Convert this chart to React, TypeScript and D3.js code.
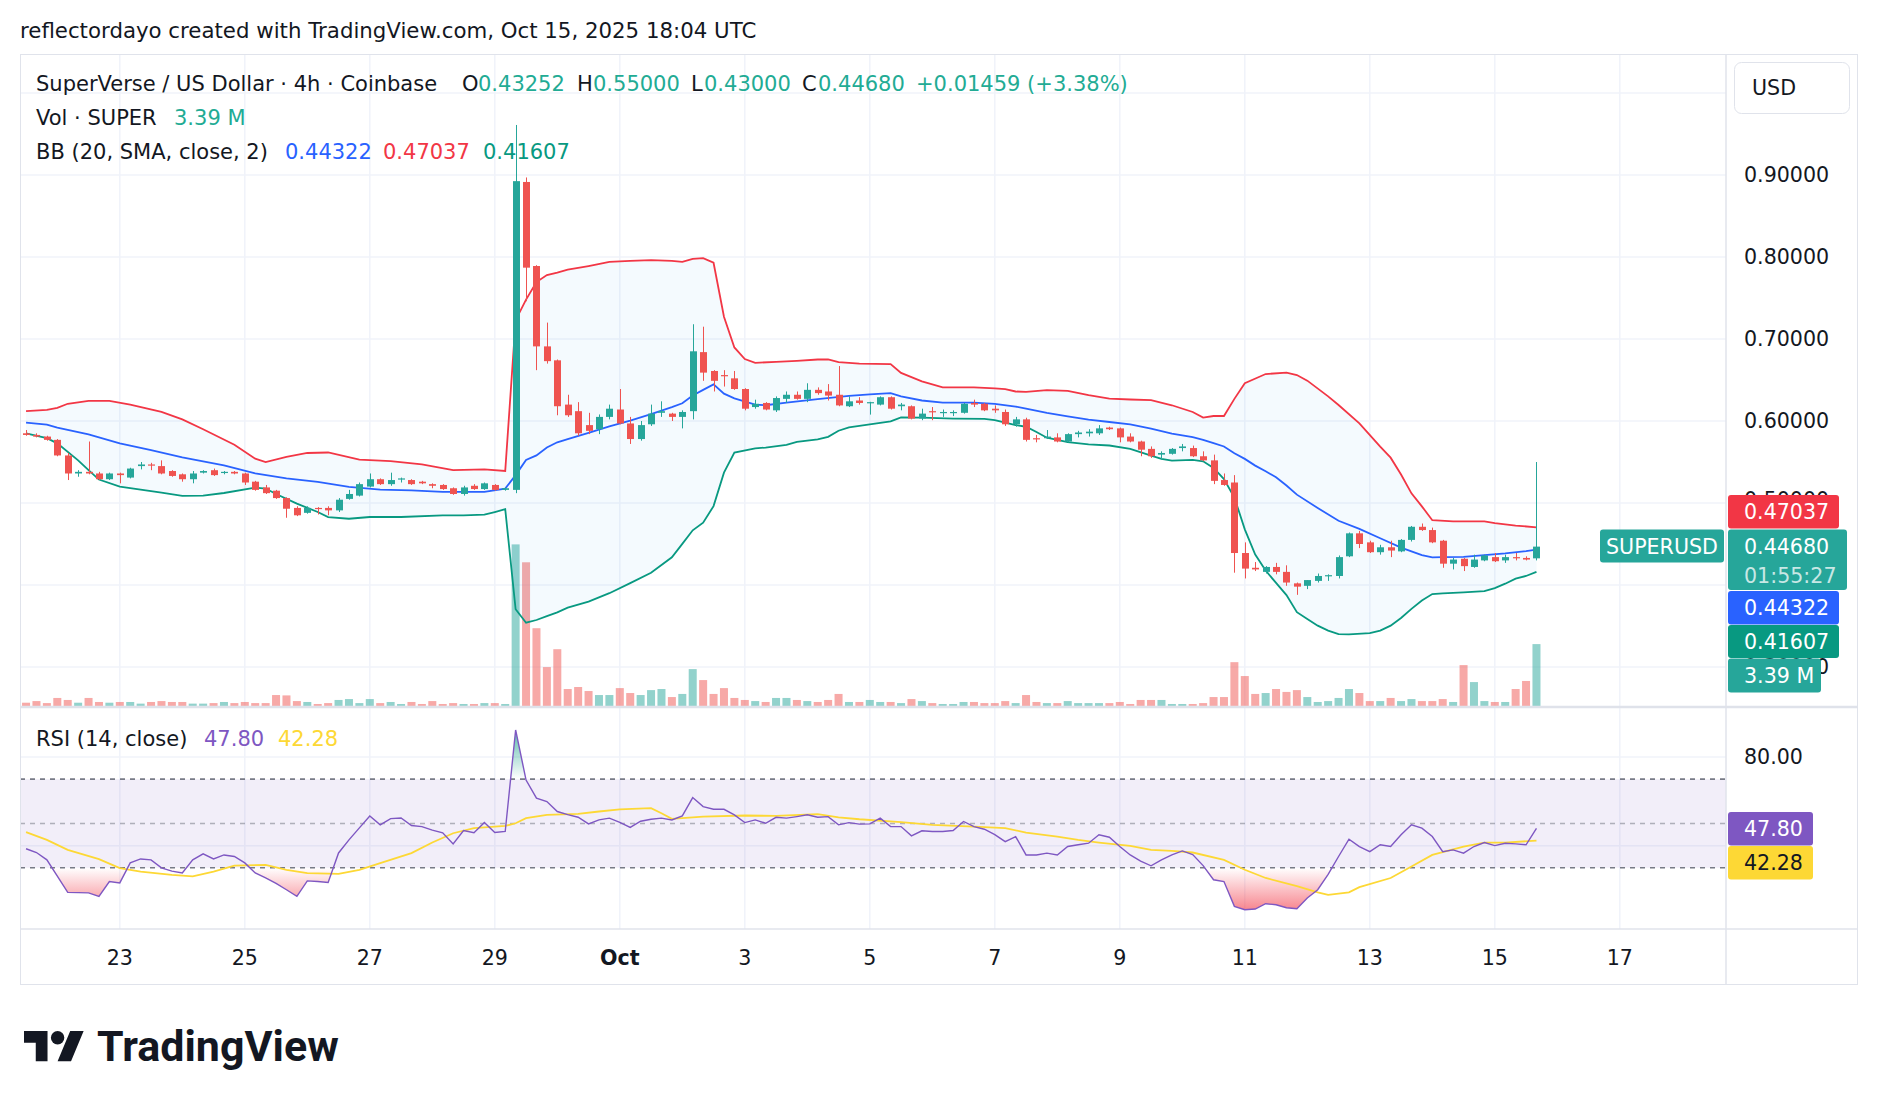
import React from 'react';
import * as d3 from 'd3';

// ---------------- DATA ----------------
const BAR0 = Date.UTC(2025, 8, 21, 12); // first visible 4h bar
const BAR_MS = 4 * 3600 * 1000;

const opens = [0.585,0.583,0.581,0.577,0.558,0.536,0.538,0.536,0.529,0.536,0.531,0.545,0.547,0.545,0.539,0.535,0.529,0.537,0.540,0.537,0.538,0.536,0.526,0.519,0.515,0.506,0.494,0.488,0.494,0.494,0.491,0.505,0.509,0.520,0.529,0.523,0.529,0.528,0.526,0.523,0.522,0.518,0.511,0.521,0.517,0.522,0.516,0.516,0.8915,0.789,0.691,0.674,0.620,0.612,0.595,0.590,0.605,0.614,0.597,0.578,0.596,0.610,0.609,0.605,0.612,0.684,0.661,0.656,0.652,0.639,0.617,0.622,0.613,0.627,0.632,0.627,0.638,0.636,0.632,0.618,0.625,0.622,0.620,0.629,0.618,0.618,0.603,0.612,0.610,0.610,0.610,0.622,0.621,0.615,0.611,0.596,0.602,0.579,0.579,0.580,0.575,0.584,0.585,0.585,0.592,0.591,0.581,0.575,0.566,0.559,0.560,0.567,0.567,0.557,0.552,0.528,0.525,0.439,0.421,0.416,0.422,0.416,0.402,0.399,0.405,0.411,0.411,0.435,0.463,0.452,0.440,0.446,0.441,0.455,0.471,0.467,0.454,0.426,0.432,0.422,0.430,0.434,0.430,0.434,0.433,0.43252];
const highs = [0.589,0.585,0.582,0.578,0.561,0.540,0.575,0.538,0.537,0.537,0.543,0.550,0.549,0.552,0.540,0.536,0.539,0.540,0.542,0.539,0.539,0.537,0.527,0.522,0.516,0.507,0.496,0.496,0.495,0.496,0.506,0.516,0.525,0.536,0.530,0.537,0.531,0.529,0.527,0.524,0.523,0.519,0.521,0.523,0.525,0.523,0.519,0.961,0.897,0.790,0.720,0.675,0.632,0.623,0.610,0.608,0.620,0.639,0.605,0.600,0.620,0.624,0.610,0.613,0.718,0.715,0.662,0.662,0.661,0.640,0.626,0.623,0.630,0.636,0.636,0.646,0.641,0.645,0.667,0.630,0.629,0.6234,0.630,0.630,0.622,0.619,0.615,0.617,0.614,0.613,0.622,0.626,0.622,0.619,0.614,0.605,0.604,0.583,0.589,0.585,0.585,0.588,0.590,0.595,0.593,0.592,0.585,0.576,0.569,0.563,0.567,0.572,0.570,0.563,0.559,0.536,0.534,0.452,0.428,0.423,0.427,0.424,0.403,0.406,0.414,0.413,0.436,0.464,0.466,0.454,0.449,0.454,0.456,0.472,0.475,0.470,0.455,0.433,0.433,0.437,0.437,0.439,0.437,0.439,0.435,0.550];
const lows = [0.582,0.580,0.576,0.557,0.528,0.532,0.535,0.528,0.528,0.524,0.530,0.541,0.540,0.535,0.532,0.526,0.524,0.536,0.533,0.535,0.535,0.522,0.515,0.511,0.505,0.482,0.484,0.487,0.486,0.485,0.489,0.504,0.508,0.519,0.522,0.521,0.525,0.522,0.523,0.518,0.516,0.510,0.509,0.516,0.516,0.515,0.515,0.512,0.746,0.662,0.670,0.607,0.605,0.582,0.584,0.584,0.602,0.596,0.572,0.576,0.594,0.605,0.600,0.591,0.602,0.649,0.636,0.642,0.638,0.613,0.615,0.613,0.611,0.622,0.626,0.623,0.632,0.625,0.618,0.617,0.620,0.6078,0.619,0.614,0.613,0.602,0.601,0.601,0.605,0.606,0.609,0.617,0.612,0.610,0.594,0.593,0.575,0.574,0.578,0.574,0.574,0.580,0.581,0.583,0.589,0.574,0.574,0.557,0.555,0.553,0.559,0.563,0.556,0.551,0.523,0.521,0.415,0.408,0.417,0.414,0.413,0.399,0.388,0.395,0.403,0.405,0.408,0.434,0.445,0.439,0.437,0.434,0.440,0.453,0.466,0.451,0.421,0.419,0.417,0.421,0.429,0.428,0.427,0.430,0.430,0.430];
const closes = [0.583,0.581,0.577,0.558,0.536,0.538,0.536,0.529,0.536,0.534,0.542,0.547,0.546,0.536,0.533,0.529,0.536,0.539,0.534,0.538,0.536,0.525,0.516,0.512,0.506,0.493,0.485,0.494,0.493,0.491,0.504,0.511,0.523,0.529,0.523,0.528,0.530,0.523,0.524,0.521,0.517,0.511,0.519,0.517,0.524,0.516,0.518,0.8925,0.787,0.691,0.673,0.618,0.607,0.585,0.588,0.605,0.615,0.597,0.578,0.595,0.609,0.612,0.605,0.611,0.685,0.659,0.649,0.655,0.639,0.615,0.621,0.614,0.628,0.632,0.627,0.638,0.634,0.631,0.619,0.624,0.622,0.623,0.629,0.615,0.620,0.603,0.609,0.611,0.611,0.611,0.621,0.620,0.613,0.613,0.596,0.602,0.577,0.578,0.581,0.575,0.584,0.586,0.587,0.591,0.590,0.580,0.575,0.565,0.557,0.561,0.566,0.569,0.557,0.552,0.527,0.522,0.439,0.420,0.419,0.422,0.416,0.403,0.398,0.406,0.411,0.412,0.434,0.463,0.450,0.440,0.446,0.442,0.455,0.471,0.467,0.452,0.426,0.431,0.423,0.431,0.436,0.429,0.434,0.433,0.431,0.4468];
// volume in millions
const volumes = [0.18,0.27,0.16,0.44,0.33,0.18,0.44,0.22,0.18,0.22,0.22,0.13,0.22,0.27,0.22,0.22,0.13,0.13,0.16,0.22,0.16,0.22,0.16,0.16,0.60,0.58,0.27,0.22,0.11,0.16,0.33,0.38,0.16,0.38,0.16,0.22,0.11,0.22,0.11,0.27,0.11,0.16,0.11,0.11,0.16,0.16,0.11,8.85,7.87,4.26,2.13,3.11,0.93,1.04,0.82,0.60,0.60,0.98,0.71,0.60,0.87,0.93,0.49,0.66,2.02,1.42,0.66,0.98,0.44,0.33,0.27,0.22,0.44,0.44,0.33,0.27,0.22,0.33,0.66,0.22,0.22,0.33,0.22,0.22,0.16,0.38,0.27,0.16,0.11,0.11,0.22,0.22,0.16,0.16,0.27,0.16,0.60,0.22,0.16,0.16,0.27,0.16,0.16,0.16,0.16,0.22,0.11,0.33,0.33,0.33,0.11,0.11,0.11,0.16,0.49,0.49,2.40,1.64,0.66,0.71,0.93,0.77,0.87,0.49,0.22,0.27,0.44,0.93,0.71,0.27,0.27,0.44,0.27,0.38,0.27,0.27,0.38,0.22,2.24,1.31,0.27,0.22,0.22,0.93,1.37,3.39];

// Bollinger bands: [bar index, value]
const bbUpper: [number, number][] = [[0,0.612],[2,0.6135],[3,0.616],[4,0.621],[6,0.6245],[8,0.6245],[10,0.620],[13,0.611],[15,0.602],[17,0.590],[20,0.571],[22,0.554],[23,0.550],[25,0.5563],[27,0.561],[29,0.5616],[32,0.553],[35,0.551],[38,0.547],[41,0.540],[44,0.541],[46,0.539],[47,0.723],[48,0.748],[49,0.7695],[50,0.778],[51,0.781],[52,0.7845],[54,0.789],[56,0.794],[58,0.7953],[60,0.7962],[62,0.7953],[63,0.794],[64,0.7977],[65,0.7986],[66,0.793],[67,0.7272],[68,0.6897],[69,0.6756],[70,0.671],[72,0.672],[74,0.6734],[76,0.675],[77,0.675],[78,0.6717],[80,0.670],[83,0.6693],[84,0.6586],[86,0.6484],[88,0.641],[91,0.641],[93,0.6398],[94,0.639],[95,0.636],[96,0.6356],[98,0.6376],[100,0.6368],[102,0.6315],[104,0.6274],[106,0.6262],[108,0.6254],[110,0.6192],[112,0.611],[113,0.6041],[114,0.6061],[115,0.6061],[116,0.627],[117,0.646],[119,0.6573],[121,0.6589],[122,0.6561],[123,0.6492],[125,0.630],[126,0.6195],[128,0.5972],[130,0.5687],[131,0.5553],[132,0.5348],[133,0.5118],[134,0.4959],[135,0.479],[137,0.4775],[140,0.4775],[141,0.4754],[143,0.4725],[145,0.47037]];
const bbBasis: [number, number][] = [[0,0.598],[2,0.5955],[3,0.592],[6,0.5837],[9,0.5727],[12,0.5645],[15,0.5555],[19,0.546],[22,0.536],[25,0.530],[28,0.5257],[31,0.5196],[34,0.5163],[37,0.5155],[40,0.5135],[44,0.5135],[46,0.5176],[47,0.534],[48,0.5526],[49,0.558],[50,0.5676],[51,0.574],[52,0.578],[54,0.5855],[56,0.5934],[58,0.6005],[60,0.6085],[62,0.617],[63,0.6216],[64,0.631],[65,0.638],[66,0.6446],[67,0.6333],[68,0.6277],[70,0.620],[71,0.6192],[73,0.6225],[76,0.6266],[79,0.6307],[81,0.6324],[83,0.634],[84,0.630],[86,0.625],[88,0.6225],[91,0.6225],[93,0.6209],[95,0.6176],[96,0.6151],[98,0.6098],[100,0.6057],[102,0.6016],[104,0.5988],[106,0.5959],[108,0.5906],[110,0.5845],[112,0.5804],[113,0.5771],[114,0.573],[115,0.5689],[116,0.5607],[117,0.5538],[118,0.5456],[119,0.5387],[120,0.5313],[121,0.5214],[122,0.5102],[124,0.4939],[126,0.4783],[128,0.4684],[130,0.457],[132,0.4455],[134,0.4365],[135,0.4336],[136,0.434],[138,0.4344],[140,0.4365],[142,0.4385],[144,0.4414],[145,0.44322]];
const bbLower: [number, number][] = [[0,0.585],[2,0.579],[3,0.5727],[5,0.552],[6,0.540],[7,0.5286],[9,0.520],[11,0.5163],[13,0.5127],[15,0.5086],[17,0.509],[19,0.5122],[22,0.5188],[23,0.5176],[24,0.511],[26,0.4992],[28,0.489],[29,0.4829],[31,0.4808],[33,0.4829],[36,0.4829],[40,0.4849],[42,0.4849],[44,0.4857],[45,0.489],[46,0.4925],[47,0.3704],[48,0.354],[49,0.3573],[50,0.362],[51,0.3667],[52,0.3723],[54,0.3798],[56,0.390],[58,0.4023],[60,0.415],[62,0.4338],[63,0.4502],[64,0.4667],[65,0.476],[66,0.4962],[67,0.537],[68,0.5615],[70,0.5667],[71,0.5676],[73,0.5709],[74,0.5746],[76,0.5775],[77,0.5807],[78,0.5881],[79,0.5922],[81,0.5959],[83,0.5996],[84,0.6045],[86,0.6041],[89,0.6029],[92,0.6025],[93,0.6012],[94,0.598],[95,0.5951],[96,0.5930],[97,0.5865],[98,0.5796],[100,0.5742],[102,0.5714],[104,0.5701],[106,0.566],[108,0.5579],[109,0.5538],[110,0.5517],[112,0.5526],[113,0.5509],[114,0.5427],[115,0.5292],[116,0.5067],[117,0.4679],[118,0.4372],[119,0.4176],[120,0.4025],[121,0.3877],[122,0.3668],[123,0.3586],[124,0.3504],[125,0.3443],[126,0.3402],[127,0.3398],[129,0.3414],[130,0.3443],[131,0.3504],[132,0.3598],[133,0.3709],[134,0.3811],[135,0.3889],[136,0.3897],[138,0.391],[140,0.3926],[141,0.3963],[142,0.4016],[143,0.4078],[144,0.411],[145,0.41607]];

// RSI(14) and its moving average: [bar index, value]
const rsi: [number, number][] = [[0,38.6],[1,36.9],[2,33.6],[4,18.9],[5,18.8],[6,18.7],[7,17.1],[8,23.8],[9,23.2],[10,32.2],[11,34],[12,33.6],[13,30],[14,28.5],[15,27.7],[16,33.6],[17,36.3],[18,34],[19,35.8],[20,35.1],[21,32.2],[22,27.7],[23,25.5],[24,23],[25,20.1],[26,17.1],[27,24.1],[28,23.8],[29,23.4],[30,36.7],[31,42.6],[32,48],[33,53.4],[34,49.4],[35,52.2],[36,52.5],[37,49.1],[38,48.6],[39,47],[40,45.8],[41,40.8],[42,46.8],[43,45.8],[44,50.4],[45,45.9],[46,46.4],[47,92.2],[48,69.6],[49,61.4],[50,59.9],[51,55.4],[52,54],[53,52.8],[54,49.8],[55,51.6],[56,52.4],[57,50.5],[58,48.2],[59,51.0],[60,51.9],[61,52.4],[62,51.6],[63,53.4],[64,61.7],[65,57.6],[66,56.4],[67,56.4],[68,53.9],[69,50.4],[70,51.6],[71,50.1],[72,52.8],[73,52.4],[74,53.1],[75,53.9],[76,52.8],[77,53.1],[78,49.4],[79,50.4],[80,49.7],[81,49.8],[82,52.4],[83,48.6],[84,48.6],[85,44.4],[86,46.7],[87,46.4],[88,46.4],[89,46.8],[90,50.9],[91,48.6],[92,47.4],[93,45],[94,41.8],[95,44.1],[96,35.8],[97,35.8],[98,36.6],[99,35.8],[100,39.6],[101,40.4],[102,41.1],[103,44.9],[104,43.8],[105,39.6],[106,35.8],[107,33],[108,30.9],[109,33.6],[110,35.8],[111,37.6],[112,36],[113,31],[114,24.6],[115,23.8],[116,12.6],[117,11.1],[118,11.4],[119,13.8],[120,13.3],[121,12],[122,11.5],[123,16.4],[124,20.1],[125,27],[126,35.1],[127,42.9],[128,39.6],[129,37.3],[130,40.4],[131,39.6],[132,44.9],[133,49.4],[134,47.9],[135,44.1],[136,37.3],[137,38.1],[138,36.6],[139,39.6],[140,41.4],[141,40],[142,41.1],[143,40.8],[144,40.4],[145,47.8]];
const rsiMa: [number, number][] = [[0,46.1],[2,42.6],[4,38.1],[7,33.9],[9,29.9],[11,28.3],[14,26.8],[16,26.1],[18,28.3],[20,31],[23,31.3],[25,29.1],[27,27.6],[30,27.3],[32,29.1],[34,32.1],[37,36.6],[39,41.4],[41,45.6],[43,47.9],[46,48.9],[47,50.1],[48,52.4],[50,53.9],[53,54.3],[55,55.4],[57,56.4],[60,56.9],[61,54.6],[62,52.1],[65,53.1],[69,53.6],[72,53.4],[76,54.2],[78,52.8],[80,51.9],[84,50.6],[87,49.4],[91,48.6],[94,47.9],[96,45.9],[99,44.1],[101,42.6],[103,41.4],[106,39.9],[108,38.1],[110,37.6],[112,36.9],[115,33.6],[117,29.1],[119,25.4],[122,21.7],[124,18.9],[125,17.8],[127,18.9],[128,21.3],[131,25.4],[133,30.6],[135,35.8],[138,39.6],[140,41.4],[142,41.4],[145,42.28]];

const priceGrid = [0.3, 0.4, 0.5, 0.6, 0.7, 0.8, 0.9, 1.0];
const priceLabels = [0.3, 0.5, 0.6, 0.7, 0.8, 0.9];
const rsiGrid = [40, 80];
const rsiLabels = [80];
const rsiLevels = [70, 50, 30];
const timeTicks = ['2025-09-23','2025-09-25','2025-09-27','2025-09-29','2025-10-01','2025-10-03','2025-10-05','2025-10-07','2025-10-09','2025-10-11','2025-10-13','2025-10-15','2025-10-17'];
const timeLabels = ['23','25','27','29','Oct','3','5','7','9','11','13','15','17'];

// ---------------- LAYOUT ----------------
const W = 1878, H = 1106;
const FL = 20, FT = 54, FR = 1858, FB = 985;
const PR = 1726; // price axis separator
const MAIN_B = 707, RSI_B = 929;
const FONT = "'DejaVu Sans', Verdana, sans-serif";
const TXT = '#131722';
const UP = '#26a69a', DOWN = '#ef5350';

export default function App() {
  const x = d3.scaleUtc()
    .domain([new Date(Date.UTC(2025, 8, 23)), new Date(Date.UTC(2025, 9, 17))])
    .range([119.8, 1619.8]);
  const bx = (i: number) => x(new Date(BAR0 + i * BAR_MS));
  const yP = d3.scaleLinear().domain([0.3, 0.9]).range([667, 175]);
  const yV = d3.scaleLinear().domain([0, 9.2]).range([706, 538]);
  const yR = d3.scaleLinear().domain([30, 80]).range([867.8, 757]);

  const pLine = d3.line<[number, number]>().x(d => bx(d[0])).y(d => yP(d[1]));
  const rLine = d3.line<[number, number]>().x(d => bx(d[0])).y(d => yR(d[1]));
  const bandPts: [number, number][] = [...bbUpper, ...[...bbLower].reverse()];
  const bandPath = pLine(bandPts) + 'Z';
  const osArea = d3.area<[number, number]>().x(d => bx(d[0])).y0(yR(30)).y1(d => yR(d[1]));
  const obArea = d3.area<[number, number]>().x(d => bx(d[0])).y0(yR(70)).y1(d => yR(d[1]));

  const n = closes.length;
  const idx = d3.range(n);

  const legendNum = (s: string, xx: number, y: number, c: string) => (
    <text x={xx} y={y} fill={c} dominantBaseline="central">{s}</text>
  );

  const priceBox = (y0: number, h: number, w: number, fill: string) => (
    <rect x={PR + 2} y={y0} width={w} height={h} rx={3} fill={fill} />
  );

  return (
    <div style={{ position: 'absolute', left: 0, top: 0, width: W, height: H, background: '#fff' }}>
      <svg width={W} height={H} style={{ display: 'block' }} fontFamily={FONT}>
        <defs>
          <clipPath id="mainClip"><rect x={FL} y={FT} width={PR - FL} height={MAIN_B - FT} /></clipPath>
          <clipPath id="rsiClip"><rect x={FL} y={MAIN_B + 1} width={PR - FL} height={RSI_B - MAIN_B - 1} /></clipPath>
          <clipPath id="osClip"><rect x={FL} y={yR(30)} width={PR - FL} height={RSI_B - yR(30)} /></clipPath>
          <clipPath id="obClip"><rect x={FL} y={MAIN_B} width={PR - FL} height={yR(70) - MAIN_B} /></clipPath>
          <linearGradient id="osGrad" gradientUnits="userSpaceOnUse" x1="0" y1={yR(30)} x2="0" y2={yR(0)}>
            <stop offset="0" stopColor="#f23645" stopOpacity="0" />
            <stop offset="1" stopColor="#f23645" stopOpacity="0.95" />
          </linearGradient>
          <linearGradient id="obGrad" gradientUnits="userSpaceOnUse" x1="0" y1={yR(70)} x2="0" y2={yR(100)}>
            <stop offset="0" stopColor="#089981" stopOpacity="0" />
            <stop offset="1" stopColor="#089981" stopOpacity="0.9" />
          </linearGradient>
        </defs>

        <rect x={0} y={0} width={W} height={H} fill="#fff" />

        {/* header */}
        <text x={20} y={30} fontSize={21.3} fill={TXT} dominantBaseline="central">
          reflectordayo created with TradingView.com, Oct 15, 2025 18:04 UTC
        </text>

        {/* grid */}
        <g stroke="#f0f3fa" strokeWidth={1.5}>
          {priceGrid.map(p => <line key={'pg' + p} x1={FL} x2={PR} y1={yP(p)} y2={yP(p)} />)}
          {timeTicks.map(t => {
            const xx = x(new Date(t + 'T00:00:00Z'));
            return <line key={'vg' + t} x1={xx} x2={xx} y1={FT} y2={RSI_B} />;
          })}
          {rsiGrid.map(r => <line key={'rg' + r} x1={FL} x2={PR} y1={yR(r)} y2={yR(r)} />)}
        </g>

        {/* main pane */}
        <g clipPath="url(#mainClip)">
          {idx.map(i => {
            const up = closes[i] >= opens[i];
            const xx = bx(i);
            return <rect key={'v' + i} x={xx - 4} y={yV(volumes[i])} width={8} height={yV(0) - yV(volumes[i])}
              fill={up ? 'rgba(38,166,154,0.5)' : 'rgba(239,83,80,0.5)'} />;
          })}
          <path d={bandPath} fill="rgba(33,150,243,0.05)" stroke="none" />
          <path d={pLine(bbUpper) || ''} fill="none" stroke="#F23645" strokeWidth={1.8} />
          <path d={pLine(bbLower) || ''} fill="none" stroke="#089981" strokeWidth={1.8} />
          <path d={pLine(bbBasis) || ''} fill="none" stroke="#2962FF" strokeWidth={1.8} />
          {idx.map(i => {
            const up = closes[i] >= opens[i];
            const c = up ? UP : DOWN;
            const xx = Math.round(bx(i));
            const yt = yP(Math.max(opens[i], closes[i]));
            const yb = yP(Math.min(opens[i], closes[i]));
            return (
              <g key={'c' + i}>
                <line x1={xx + 0.5} x2={xx + 0.5} y1={yP(highs[i])} y2={yP(lows[i])} stroke={c} strokeWidth={1} />
                <rect x={xx - 3} y={yt} width={7} height={Math.max(1.2, yb - yt)} fill={c} />
              </g>
            );
          })}
        </g>

        {/* RSI pane */}
        <rect x={FL} y={yR(70)} width={PR - FL} height={yR(30) - yR(70)} fill="rgba(126,87,194,0.1)" />
        <g clipPath="url(#rsiClip)">
          <g clipPath="url(#osClip)"><path d={osArea(rsi) || ''} fill="url(#osGrad)" /></g>
          <g clipPath="url(#obClip)"><path d={obArea(rsi) || ''} fill="url(#obGrad)" /></g>
          {rsiLevels.map(l => (
            <line key={'lv' + l} x1={FL} x2={PR} y1={yR(l)} y2={yR(l)}
              stroke={l === 50 ? 'rgba(120,123,134,0.55)' : '#787b86'} strokeWidth={1.6} strokeDasharray="5 5" />
          ))}
          <path d={rLine(rsiMa) || ''} fill="none" stroke="#FDD835" strokeWidth={1.8} />
          <path d={rLine(rsi) || ''} fill="none" stroke="#7E57C2" strokeWidth={1.4} />
        </g>

        {/* frame and separators */}
        <rect x={FL + 0.5} y={FT + 0.5} width={FR - FL - 1} height={FB - FT - 1} fill="none" stroke="#e0e3eb" strokeWidth={1} />
        <line x1={PR} x2={PR} y1={FT} y2={FB} stroke="#e0e3eb" strokeWidth={1.5} />
        <line x1={FL} x2={FR} y1={MAIN_B} y2={MAIN_B} stroke="#dfe2ea" strokeWidth={2.5} />
        <line x1={FL} x2={FR} y1={RSI_B} y2={RSI_B} stroke="#e0e3eb" strokeWidth={1.5} />

        {/* legends */}
        <g fontSize={21} fill={TXT}>
          <text x={36} y={84} dominantBaseline="central">SuperVerse / US Dollar · 4h · Coinbase</text>
          <text x={462} y={84} dominantBaseline="central">O</text>
          {legendNum('0.43252', 478, 84, '#22ab94')}
          <text x={577} y={84} dominantBaseline="central">H</text>
          {legendNum('0.55000', 593, 84, '#22ab94')}
          <text x={691} y={84} dominantBaseline="central">L</text>
          {legendNum('0.43000', 704, 84, '#22ab94')}
          <text x={802} y={84} dominantBaseline="central">C</text>
          {legendNum('0.44680', 818, 84, '#22ab94')}
          {legendNum('+0.01459 (+3.38%)', 916, 84, '#22ab94')}

          <text x={36} y={118} dominantBaseline="central">Vol · SUPER</text>
          {legendNum('3.39 M', 174, 118, '#22ab94')}

          <text x={36} y={152} dominantBaseline="central">BB (20, SMA, close, 2)</text>
          {legendNum('0.44322', 285, 152, '#2962FF')}
          {legendNum('0.47037', 383, 152, '#F23645')}
          {legendNum('0.41607', 483, 152, '#089981')}

          <text x={36} y={739} dominantBaseline="central">RSI (14, close)</text>
          {legendNum('47.80', 204, 739, '#7E57C2')}
          {legendNum('42.28', 278, 739, '#FDD835')}
        </g>

        {/* price axis */}
        <rect x={1734.5} y={62.5} width={115} height={51} rx={7} fill="#fff" stroke="#e0e3eb" />
        <text x={1752} y={88} fontSize={20.6} fill={TXT} dominantBaseline="central">USD</text>
        <g fontSize={20.6} fill={TXT}>
          {priceLabels.map(p => (
            <text key={'pl' + p} x={1744} y={yP(p) - (p === 0.5 ? 3 : 0)} dominantBaseline="central">{p.toFixed(5)}</text>
          ))}
          {rsiLabels.map(r => (
            <text key={'rl' + r} x={1744} y={yR(r)} dominantBaseline="central">{r.toFixed(2)}</text>
          ))}
        </g>

        {/* value labels */}
        <g fontSize={20.6}>
          {priceBox(495, 33.5, 111, '#F23645')}
          <text x={1744} y={512} fill="#fff" dominantBaseline="central">0.47037</text>
          {priceBox(529.5, 60.5, 119, '#26a69a')}
          <text x={1744} y={546.5} fill="#fff" dominantBaseline="central">0.44680</text>
          <text x={1744} y={576} fill="rgba(255,255,255,0.75)" dominantBaseline="central">01:55:27</text>
          {priceBox(591, 33.5, 111, '#2962FF')}
          <text x={1744} y={608} fill="#fff" dominantBaseline="central">0.44322</text>
          {priceBox(625, 33, 111, '#089981')}
          <text x={1744} y={642} fill="#fff" dominantBaseline="central">0.41607</text>
          {priceBox(658.5, 34, 93, '#26a69a')}
          <text x={1744} y={676} fill="#fff" dominantBaseline="central">3.39 M</text>

          <rect x={1600} y={529.5} width={124} height={33} rx={3} fill="#26a69a" />
          <text x={1662} y={546.5} fill="#fff" textAnchor="middle" dominantBaseline="central">SUPERUSD</text>

          {priceBox(812, 33.5, 85, '#7E57C2')}
          <text x={1744} y={829} fill="#fff" dominantBaseline="central">47.80</text>
          {priceBox(846, 33.5, 85, '#FDD835')}
          <text x={1744} y={863} fill={TXT} dominantBaseline="central">42.28</text>
        </g>

        {/* time axis */}
        <g fontSize={20.6} fill={TXT}>
          {timeTicks.map((t, k) => (
            <text key={'tl' + t} x={x(new Date(t + 'T00:00:00Z'))} y={958} textAnchor="middle" dominantBaseline="central"
              fontWeight={timeLabels[k] === 'Oct' ? 700 : 400}>{timeLabels[k]}</text>
          ))}
        </g>

        {/* logo */}
        <g transform="translate(24,1024.3) scale(1.68)" fill={TXT}>
          <path d="M14 22H7V11H0V4h14v18zM28 22h-8l7.5-18h8L28 22z" />
          <circle cx={20} cy={8} r={4} />
        </g>
        <text x={97} y={1046} fontFamily="Roboto, sans-serif" fontSize={43} fontWeight={700} fill={TXT} dominantBaseline="central">TradingView</text>
      </svg>
    </div>
  );
}
